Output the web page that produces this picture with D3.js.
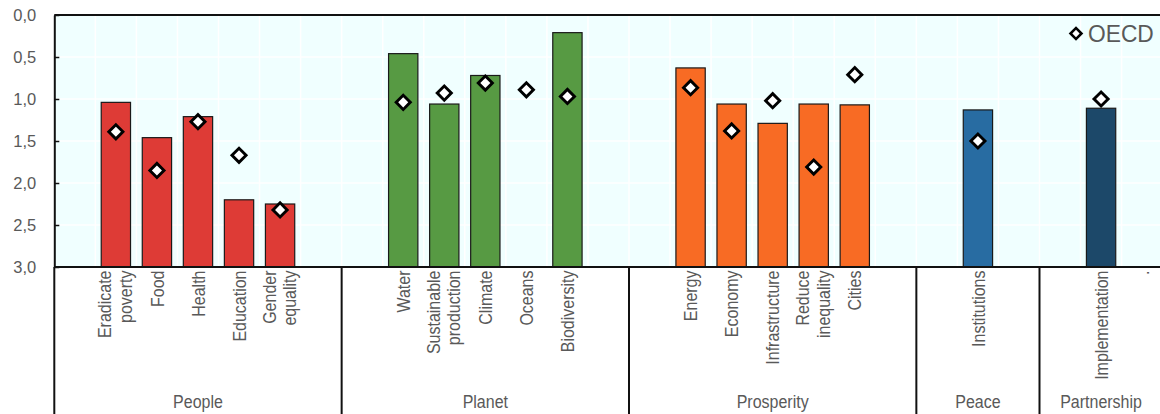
<!DOCTYPE html>
<html>
<head>
<meta charset="utf-8">
<script src="https://cdn.jsdelivr.net/npm/d3@7"></script>
<style>
  html, body { margin: 0; padding: 0; background: #ffffff; }
  svg { display: block; font-family: "Liberation Sans", Arial, sans-serif; }
</style>
</head>
<body>
<svg id="chart" width="1160" height="414"></svg>
<script>
// ---------- data ----------
const groups = ["People", "Planet", "Prosperity", "Peace", "Partnership"];
const groupSlots = [7, 7, 7, 3, 3];
const groupColors = ["#DE3B36", "#579A43", "#F86B24", "#286CA2", "#1C4869"];

// tick labels for every slot of the category axis ("" = empty slot)
const tickLabels = ["", "Eradicate poverty", "Food", "Health", "Education", "Gender equality", "",
                    "", "Water", "Sustainable production", "Climate", "Oceans", "Biodiversity", "",
                    "", "Energy", "Economy", "Infrastructure", "Reduce inequality", "Cities", "",
                    "", "Institutions", "",
                    "", "Implementation", "."];

const categories = ["Eradicate poverty", "Food", "Health", "Education", "Gender equality",
                    "Water", "Sustainable production", "Climate", "Oceans", "Biodiversity",
                    "Energy", "Economy", "Infrastructure", "Reduce inequality", "Cities",
                    "Institutions", "Implementation"];
const categoryGroup = [0, 0, 0, 0, 0, 1, 1, 1, 1, 1, 2, 2, 2, 2, 2, 3, 4];
const countryValues = [1.04, 1.46, 1.21, 2.20, 2.25,
                       0.46, 1.06, 0.72, null, 0.21,
                       0.63, 1.06, 1.29, 1.06, 1.07,
                       1.13, 1.11];
const oecdValues = [1.39, 1.85, 1.27, 1.67, 2.32,
                    1.04, 0.93, 0.81, 0.89, 0.97,
                    0.865, 1.38, 1.02, 1.81, 0.71,
                    1.50, 1.00];
const yTicks = [0, 0.5, 1, 1.5, 2, 2.5, 3];

// ---------- layout ----------
const W = 1160, H = 414;
const plotLeft = 54.3, plotTop = 15, plotBottom = 267;
const step = 41.05;
const nSlots = tickLabels.length;
const plotRight = plotLeft + nSlots * step;
const labelColor = "#595959";
const catFont = 18.5, catScale = 0.865;

const svg = d3.select("#chart");

const x = d3.scaleBand()
  .domain(d3.range(nSlots))
  .range([plotLeft, plotRight])
  .paddingInner(0.286)
  .paddingOuter(0.143);

const y = d3.scaleLinear().domain([0, 3]).range([plotTop, plotBottom]);

const slotOf = c => tickLabels.indexOf(c);

// background
svg.append("rect")
  .attr("x", plotLeft).attr("y", plotTop)
  .attr("width", plotRight - plotLeft).attr("height", plotBottom - plotTop)
  .attr("fill", "#F0FFFF");

// gridlines
const grid = svg.append("g").attr("stroke", "#ffffff").attr("stroke-width", 1.5);
grid.selectAll("line.h").data(yTicks.slice(1, -1)).join("line")
  .attr("x1", plotLeft).attr("x2", plotRight)
  .attr("y1", d => y(d)).attr("y2", d => y(d));
grid.selectAll("line.v").data(d3.range(1, nSlots)).join("line")
  .attr("x1", i => plotLeft + i * x.step()).attr("x2", i => plotLeft + i * x.step())
  .attr("y1", plotTop).attr("y2", plotBottom);

// bars (from 3 up to value)
const barData = categories.map((c, i) => ({ c, v: countryValues[i], g: categoryGroup[i] }))
  .filter(d => d.v !== null);
svg.append("g").selectAll("rect").data(barData).join("rect")
  .attr("x", d => x(slotOf(d.c)))
  .attr("width", x.bandwidth())
  .attr("y", d => y(d.v))
  .attr("height", d => y(3) - y(d.v))
  .attr("fill", d => groupColors[d.g])
  .attr("stroke", "#1a1a1a")
  .attr("stroke-width", 1.2);

// frame lines
svg.append("line").attr("x1", plotLeft).attr("x2", W + 10)
  .attr("y1", plotTop).attr("y2", plotTop).attr("stroke", "#111").attr("stroke-width", 2);
svg.append("line").attr("x1", plotLeft).attr("x2", W + 10)
  .attr("y1", plotBottom).attr("y2", plotBottom).attr("stroke", "#111").attr("stroke-width", 2);

// group separators in the label area
let cum = 0;
const bounds = [0];
groupSlots.forEach(n => { cum += n; bounds.push(cum); });
svg.append("g").selectAll("line").data(bounds).join("line")
  .attr("x1", b => plotLeft + b * x.step()).attr("x2", b => plotLeft + b * x.step())
  .attr("y1", plotBottom).attr("y2", H)
  .attr("stroke", "#111").attr("stroke-width", 2);

// y axis
const fmt = d3.formatLocale({ decimal: ",", thousands: ".", grouping: [3], currency: ["", ""] }).format(".1f");
const yAxis = svg.append("g")
  .attr("transform", `translate(${plotLeft},0)`)
  .call(d3.axisLeft(y).tickValues(yTicks).tickFormat(fmt)
        .tickSizeInner(-5).tickSizeOuter(0).tickPadding(18));
yAxis.select(".domain").attr("stroke", "#111").attr("stroke-width", 2);
yAxis.selectAll(".tick line").attr("stroke", "#111").attr("stroke-width", 1.5);
yAxis.selectAll(".tick text")
  .attr("fill", labelColor).attr("font-size", 16.5)
  .attr("font-family", "'Liberation Sans', Arial, sans-serif");

// OECD diamonds
const diamond = d3.symbol().type(d3.symbolSquare).size(100);
const oecdData = categories.map((c, i) => ({ c, v: oecdValues[i] }));
svg.append("g").selectAll("path").data(oecdData).join("path")
  .attr("d", diamond)
  .attr("transform", d => `translate(${x(slotOf(d.c)) + x.bandwidth() / 2},${y(d.v)}) rotate(45)`)
  .attr("fill", "#ffffff")
  .attr("stroke", "#000000")
  .attr("stroke-width", 2.9);

// category tick labels (rotated, condensed)
const lineH = 20.5;
const tl = svg.append("g").attr("fill", labelColor).attr("font-size", catFont);
tickLabels.forEach((lab, i) => {
  if (!lab) return;
  const cx = x(i) + x.bandwidth() / 2;
  const lines = lab.includes(" ") ? lab.split(" ") : [lab];
  const t = tl.append("text")
    .attr("transform", `translate(${cx},270.5) rotate(-90) scale(${catScale},1)`)
    .attr("text-anchor", "end");
  lines.forEach((ln, k) => {
    const off = (lines.length === 1 ? 6.6 : 5.8) + (k - (lines.length - 1) / 2) * lineH;
    t.append("tspan").attr("x", 0).attr("y", off).text(ln);
  });
});

// group labels
svg.append("g").attr("fill", labelColor).attr("font-size", catFont).attr("text-anchor", "middle")
  .selectAll("text").data(groups).join("text")
  .attr("transform", (g, i) =>
    `translate(${plotLeft + (bounds[i] + bounds[i + 1]) / 2 * x.step()},407.5) scale(${catScale},1)`)
  .text(g => g);

// legend
const leg = svg.append("g");
leg.append("path")
  .attr("d", d3.symbol().type(d3.symbolSquare).size(60))
  .attr("transform", "translate(1076,33.5) rotate(45)")
  .attr("fill", "#fff").attr("stroke", "#000").attr("stroke-width", 2.6);
leg.append("text")
  .attr("transform", "translate(1088,41.5) scale(0.95,1)")
  .attr("fill", labelColor).attr("font-size", 24).text("OECD");
</script>
</body>
</html>
